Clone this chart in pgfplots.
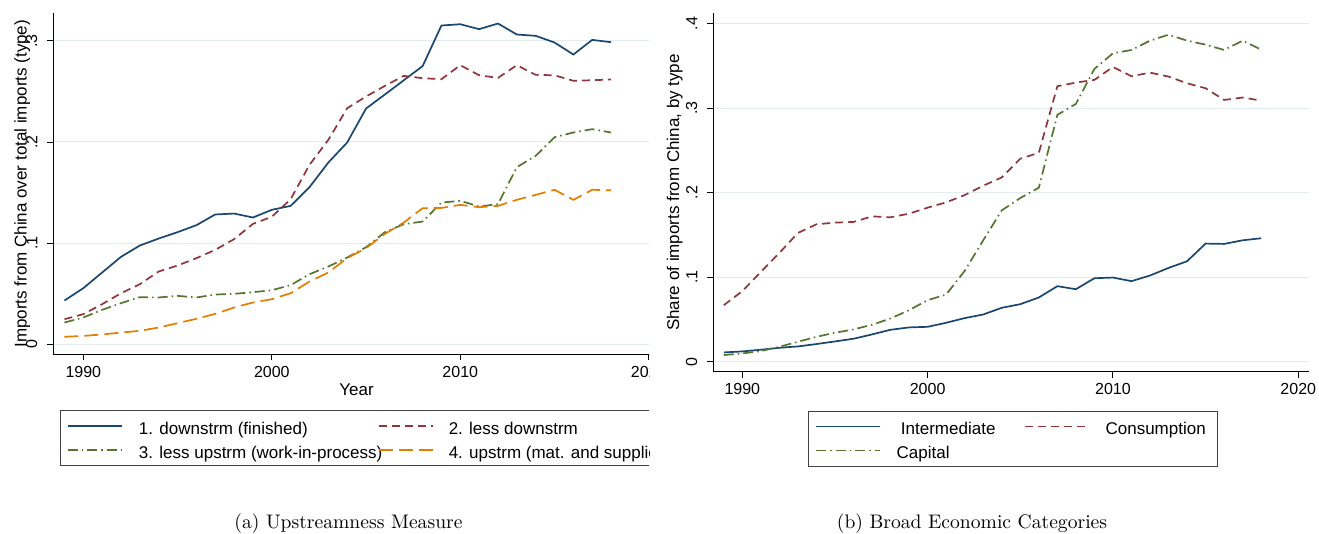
\documentclass[border=0pt]{standalone}
\usepackage{fontspec}
\usepackage{pgfplots}
\pgfplotsset{compat=1.18}
\usepackage{pgfplotstable}
\newfontfamily\arial{Liberation Sans}
\newfontfamily\capfont{lmroman10-regular}[Extension=.otf]
\definecolor{navyc}{RGB}{26,71,111}
\definecolor{maroonc}{RGB}{144,53,59}
\definecolor{greenc}{RGB}{85,117,47}
\definecolor{orangec}{RGB}{227,126,0}
\definecolor{gridc}{RGB}{226,236,240}

\pgfplotstableread{
year s1 s2 s3 s4
1989 0.0432 0.0247 0.0214 0.0073
1990 0.0554 0.0297 0.0264 0.0082
1991 0.0709 0.0396 0.0340 0.0096
1992 0.0864 0.0504 0.0406 0.0115
1993 0.0976 0.0593 0.0465 0.0132
1994 0.1045 0.0719 0.0462 0.0165
1995 0.1108 0.0778 0.0478 0.0208
1996 0.1177 0.0851 0.0462 0.0251
1997 0.1283 0.0933 0.0491 0.0300
1998 0.1292 0.1039 0.0498 0.0363
1999 0.1253 0.1190 0.0514 0.0412
2000 0.1329 0.1260 0.0534 0.0445
2001 0.1368 0.1434 0.0584 0.0504
2002 0.1553 0.1774 0.0692 0.0620
2003 0.1797 0.2021 0.0768 0.0709
2004 0.1995 0.2334 0.0857 0.0851
2005 0.2331 0.2450 0.0959 0.0950
2006 0.2470 0.2555 0.1108 0.1091
2007 0.2610 0.2654 0.1187 0.1203
2008 0.2750 0.2631 0.1213 0.1345
2009 0.3152 0.2621 0.1401 0.1348
2010 0.3165 0.2760 0.1418 0.1378
2011 0.3116 0.2660 0.1362 0.1355
2012 0.3172 0.2634 0.1385 0.1368
2013 0.3063 0.2760 0.1751 0.1428
2014 0.3050 0.2664 0.1863 0.1477
2015 0.2984 0.2660 0.2047 0.1527
2016 0.2865 0.2605 0.2094 0.1428
2017 0.3010 0.2611 0.2127 0.1527
2018 0.2987 0.2618 0.2094 0.1523
}\upstream

\pgfplotstableread{
year inter cons cap
1989 0.0110 0.0669 0.0079
1990 0.0122 0.0835 0.0098
1991 0.0142 0.1063 0.0126
1992 0.0165 0.1287 0.0177
1993 0.0181 0.1524 0.0236
1994 0.0209 0.1626 0.0295
1995 0.0240 0.1646 0.0343
1996 0.0272 0.1654 0.0382
1997 0.0323 0.1720 0.0437
1998 0.0378 0.1709 0.0512
1999 0.0406 0.1752 0.0610
2000 0.0413 0.1823 0.0728
2001 0.0461 0.1886 0.0795
2002 0.0516 0.1972 0.1075
2003 0.0559 0.2083 0.1437
2004 0.0638 0.2181 0.1791
2005 0.0681 0.2402 0.1937
2006 0.0760 0.2472 0.2059
2007 0.0894 0.3260 0.2921
2008 0.0858 0.3303 0.3051
2009 0.0988 0.3335 0.3465
2010 0.0996 0.3488 0.3650
2011 0.0953 0.3378 0.3689
2012 0.1020 0.3421 0.3799
2013 0.1110 0.3374 0.3870
2014 0.1189 0.3295 0.3799
2015 0.1398 0.3236 0.3752
2016 0.1394 0.3098 0.3689
2017 0.1437 0.3126 0.3799
2018 0.1461 0.3090 0.3693
}\bec

\newcommand\legtxt[3]{\makebox[#1][l]{\hspace{#2}\rule[-5.9pt]{0pt}{24pt}#3}}

\pgfplotsset{
  stataaxis/.style={
    scale only axis,
    axis x line*=bottom, axis y line*=left,
    axis line style={-, black, line width=1pt},
    tick align=outside, major tick length=6pt,
    tick style={black, line width=0.9pt},
    ymajorgrids, grid style={gridc, line width=1pt},
    xtick={1990,2000,2010,2020},
    xticklabels={1990,2000,2010,2020},
    tick label style={font=\arial\fontsize{16}{16}\selectfont},
    label style={font=\arial\fontsize{17}{17}\selectfont},
    xticklabel style={anchor=north, inner sep=0pt},
    yticklabel style={rotate=90, anchor=south, inner sep=0pt},
    xticklabel shift=5.75pt,
    yticklabel shift=9.85pt,
    scaled ticks=false,
    legend columns=2,
    legend cell align=left,
    legend style={anchor=north west, draw=black!75, line width=0.9pt,
      inner xsep=6.7pt, inner ysep=3.5pt, column sep=0pt, row sep=0pt,
      font=\arial\fontsize{17}{17}\selectfont,
      nodes={inner sep=0pt}, cells={anchor=west}},
  },
  p1/.style={navyc, line width=1.7pt, solid},
  p2/.style={maroonc, line width=1.7pt, dash pattern=on 8pt off 5pt},
  p3/.style={greenc, line width=1.7pt, dash pattern=on 10pt off 4pt on 1.5pt off 4pt},
  p4/.style={orangec, line width=1.7pt, dash pattern=on 14pt off 6pt},
}

\begin{document}
\begin{tikzpicture}[x=1pt,y=1pt]
\useasboundingbox (0,0) rectangle (1319,534);
\begin{scope}
\clip (0,0) rectangle (649,534);
\begin{axis}[stataaxis,
  at={(53.3pt,179.7pt)}, anchor=south west,
  width=606.4pt, height=341pt,
  xmin=1988.408, xmax=2020.58, ymin=-0.01, ymax=0.3273,
  ytick={0,0.1,0.2,0.3}, yticklabels={0,.1,.2,.3},
  xlabel={Year},
  xlabel style={at={(axis description cs:0.5,-0.0871)}, anchor=north, inner sep=0pt},
  ylabel={Imports from China over total imports (type)},
  ylabel style={at={(axis description cs:-0.0379,0.5)}, anchor=south, inner sep=0pt},
  legend style={at={(axis description cs:0.01105,-0.1633)}},
  legend image code/.code={\path[draw=none,fill=none] (0pt,-12pt) rectangle (54.3pt,12pt); \draw[#1,line width=1.2pt] (0pt,0pt) -- (54.3pt,0pt);},
]
\addplot[p1] table[x=year,y=s1]{\upstream};
\addlegendentry{\legtxt{255.8pt}{16.3pt}{1. downstrm (finished)}}
\addplot[p2] table[x=year,y=s2]{\upstream};
\addlegendentry{\legtxt{240pt}{14.8pt}{2. less downstrm}}
\addplot[p3] table[x=year,y=s3]{\upstream};
\addlegendentry{\legtxt{255.8pt}{16.3pt}{3. less upstrm (work-in-process)}}
\addplot[p4] table[x=year,y=s4]{\upstream};
\addlegendentry{\legtxt{240pt}{14.8pt}{4. upstrm (mat. and supplies)}}
\end{axis}
\end{scope}

\begin{axis}[stataaxis,
  at={(713.3pt,162.3pt)}, anchor=south west,
  width=595.7pt, height=358.4pt,
  xmin=1988.435, xmax=2020.58, ymin=-0.0118, ymax=0.4123,
  ytick={0,0.1,0.2,0.3,0.4}, yticklabels={0,.1,.2,.3,.4},
  ylabel={Share of imports from China, by type},
  ylabel style={at={(axis description cs:-0.0510,0.5)}, anchor=south, inner sep=0pt},
  legend style={at={(axis description cs:0.1595,-0.1088)}},
  legend image code/.code={\path[draw=none,fill=none] (0pt,-12pt) rectangle (64pt,12pt); \draw[#1,line width=1.2pt] (0pt,0pt) -- (64pt,0pt);},
]
\addplot[p1] table[x=year,y=inter]{\bec};
\addlegendentry{\legtxt{143.7pt}{20.3pt}{Intermediate}}
\addplot[p2] table[x=year,y=cons]{\bec};
\addlegendentry{\legtxt{121.5pt}{16pt}{Consumption}}
\addplot[p3] table[x=year,y=cap]{\bec};
\addlegendentry{\legtxt{143.7pt}{16pt}{Capital}}
\end{axis}

\node[font=\capfont\fontsize{19.6}{20}\selectfont, anchor=base] at (348.5,5.7) {(a) Upstreamness Measure};
\node[font=\capfont\fontsize{19.6}{20}\selectfont, anchor=base] at (972,5.7) {(b) Broad Economic Categories};
\end{tikzpicture}
\end{document}
